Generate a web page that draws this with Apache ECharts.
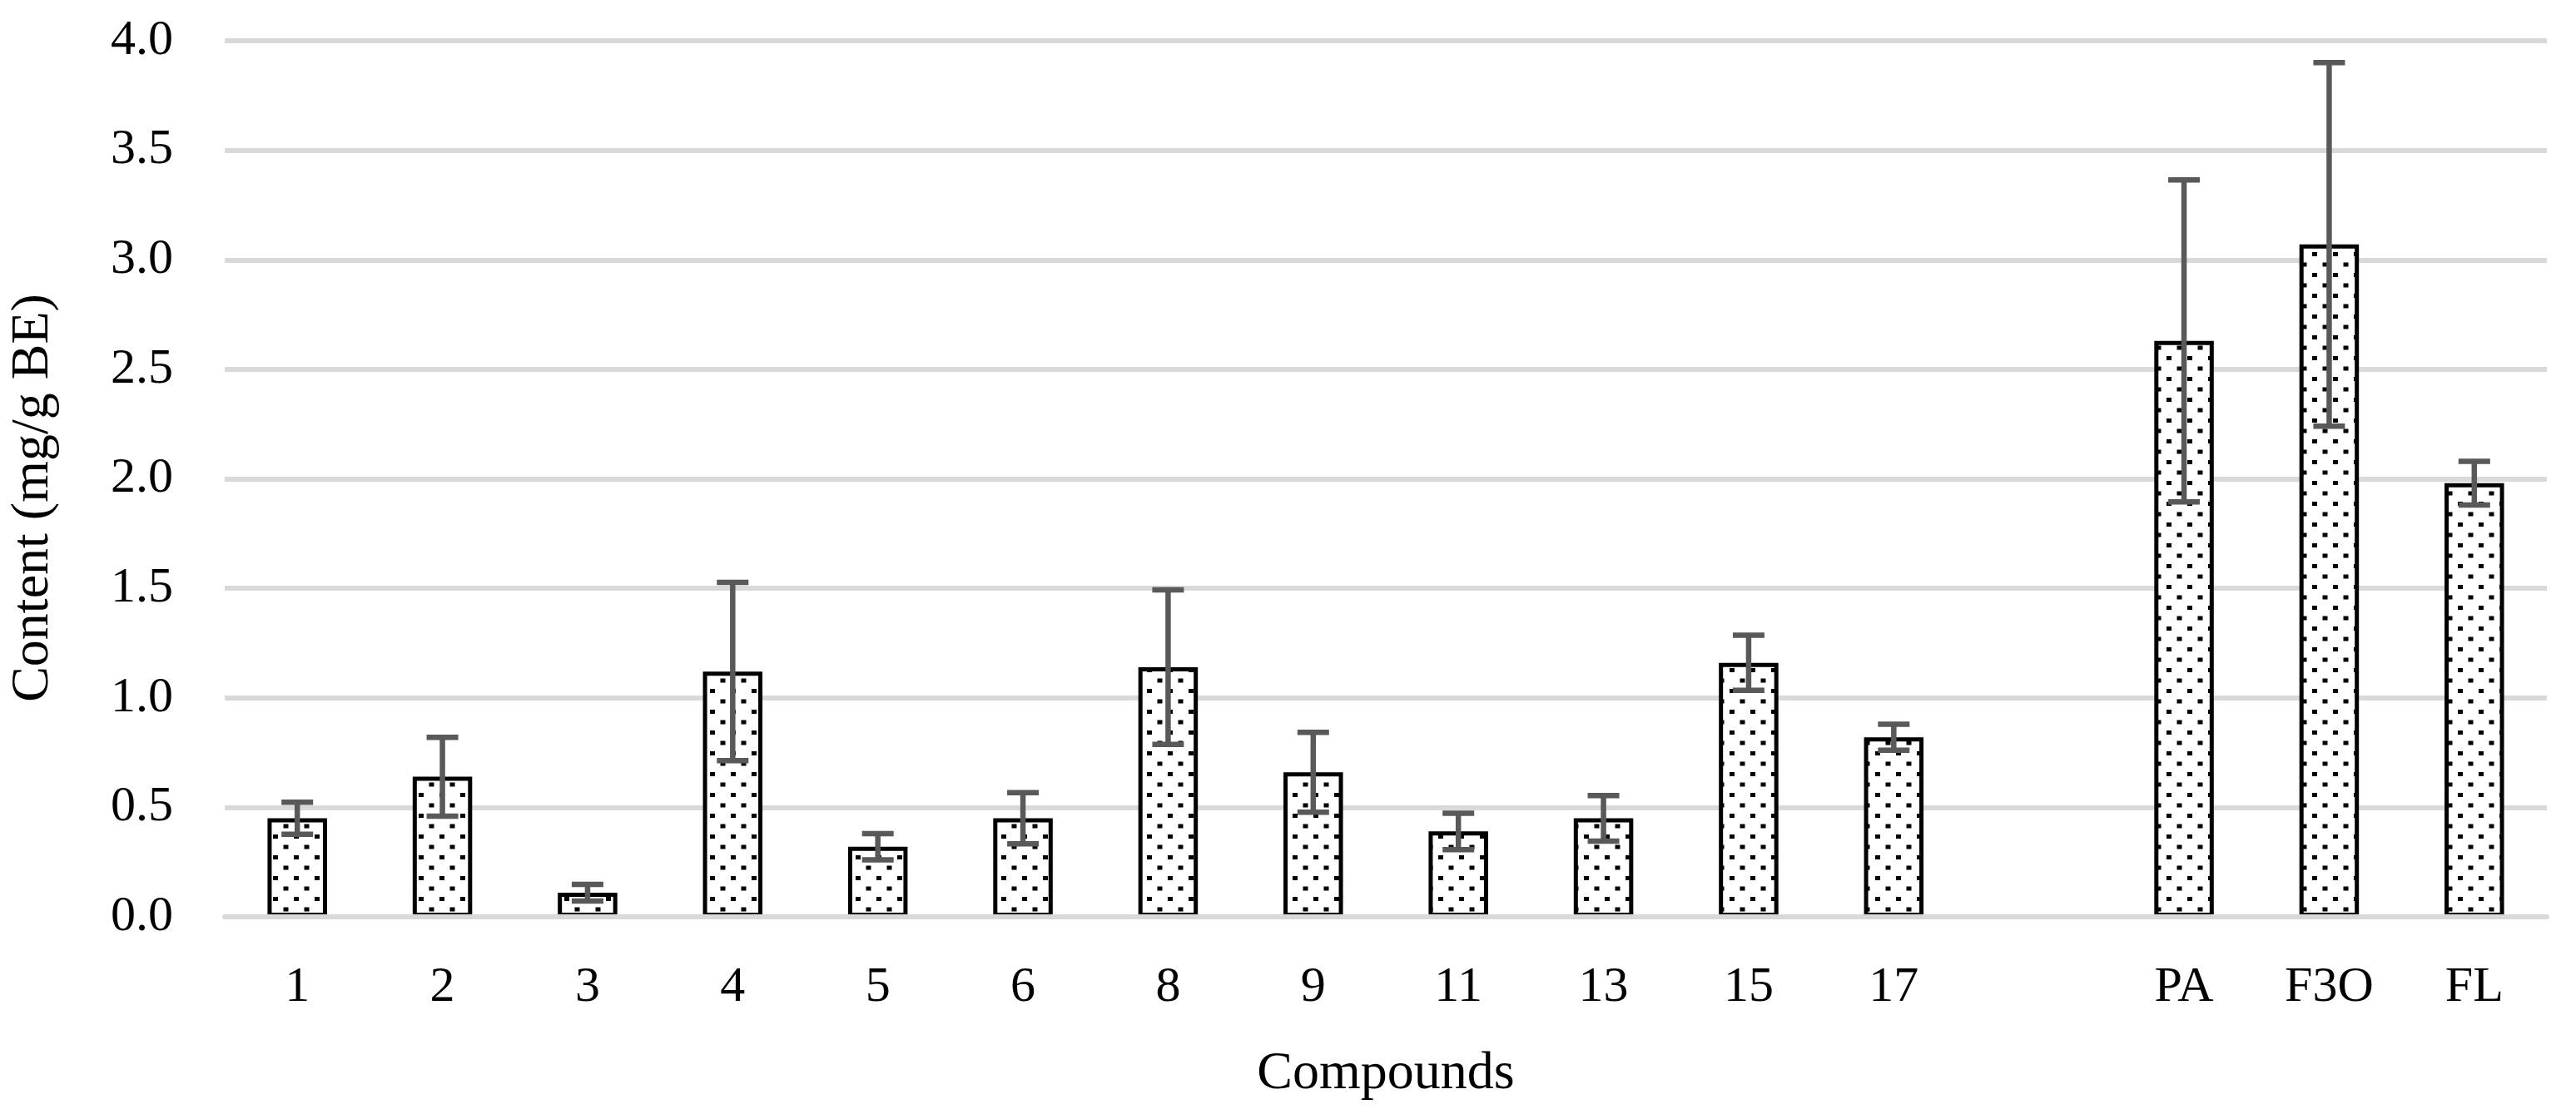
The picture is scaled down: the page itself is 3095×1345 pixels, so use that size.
<!DOCTYPE html>
<html>
<head>
<meta charset="utf-8">
<script src="https://cdn.jsdelivr.net/npm/echarts@6/dist/echarts.min.js"></script>
<style>
html,body{margin:0;padding:0;background:#fff;}
#chart{width:3095px;height:1345px;}
</style>
</head>
<body>
<div id="chart"></div>
<script>
// Data
var categories = ['1','2','3','4','5','6','8','9','11','13','15','17','','PA','F3O','FL'];
var values = [0.45, 0.64, 0.11, 1.12, 0.32, 0.45, 1.14, 0.66, 0.39, 0.45, 1.16, 0.82, null, 2.63, 3.07, 1.98];
var errors = [0.073, 0.18, 0.038, 0.407, 0.06, 0.117, 0.353, 0.182, 0.083, 0.104, 0.126, 0.059, null, 0.735, 0.83, 0.10];
var yTicks = { min: 0, max: 4, interval: 0.5 };

// dotted pattern
var tile = document.createElement('canvas');
tile.width = 25; tile.height = 25;
var ctx = tile.getContext('2d');
ctx.fillStyle = '#fff';
ctx.fillRect(0, 0, 25, 25);
ctx.fillStyle = '#000';
ctx.fillRect(3, 3, 6, 5);
ctx.fillRect(15.5, 15.5, 6, 5);

var FONT = '"Liberation Serif", "DejaVu Serif", serif';

var chart = echarts.init(document.getElementById('chart'));
chart.setOption({
  backgroundColor: '#fff',
  animation: false,
  grid: { left: 269, right: 35, top: 49, bottom: 243, containLabel: false },
  xAxis: {
    type: 'category',
    data: categories,
    z: 5,
    name: 'Compounds',
    nameLocation: 'middle',
    nameGap: 157,
    nameTextStyle: { fontFamily: FONT, fontSize: 64, color: '#000' },
    axisTick: { show: false },
    axisLine: { show: true, lineStyle: { color: '#d9d9d9', width: 6 } },
    axisLabel: { fontFamily: FONT, fontSize: 60, color: '#000', margin: 55, interval: 0 }
  },
  yAxis: {
    type: 'value',
    min: yTicks.min, max: yTicks.max, interval: yTicks.interval,
    name: 'Content (mg/g BE)',
    nameLocation: 'middle',
    nameGap: 198,
    nameRotate: 90,
    nameTextStyle: { fontFamily: FONT, fontSize: 64, color: '#000', padding: [0, 46, 0, 0] },
    axisLine: { show: false },
    axisTick: { show: false },
    axisLabel: { fontFamily: FONT, fontSize: 60, color: '#000', margin: 62,
      formatter: function (v) { return v.toFixed(1); } },
    splitLine: { show: true, lineStyle: { color: '#d9d9d9', width: 6 } }
  },
  series: [
    {
      type: 'bar',
      data: values,
      barWidth: '41%',
      itemStyle: {
        color: { image: tile, repeat: 'repeat' },
        borderColor: '#000',
        borderWidth: 5
      },
      z: 2
    },
    {
      type: 'custom',
      z: 4,
      data: categories.map(function (c, i) { return [i, values[i], errors[i]]; }),
      renderItem: function (params, api) {
        var v = api.value(1), e = api.value(2);
        if (v == null || isNaN(v) || e == null || isNaN(e)) return;
        var top = api.coord([api.value(0), v + e]);
        var bot = api.coord([api.value(0), v - e]);
        var hc = 19;
        var st = { stroke: '#595959', lineWidth: 6.5 };
        return {
          type: 'group',
          children: [
            { type: 'line', shape: { x1: top[0], y1: top[1], x2: bot[0], y2: bot[1] }, style: st },
            { type: 'line', shape: { x1: top[0] - hc, y1: top[1], x2: top[0] + hc, y2: top[1] }, style: st },
            { type: 'line', shape: { x1: bot[0] - hc, y1: bot[1], x2: bot[0] + hc, y2: bot[1] }, style: st }
          ]
        };
      }
    }
  ]
});
</script>
</body>
</html>
